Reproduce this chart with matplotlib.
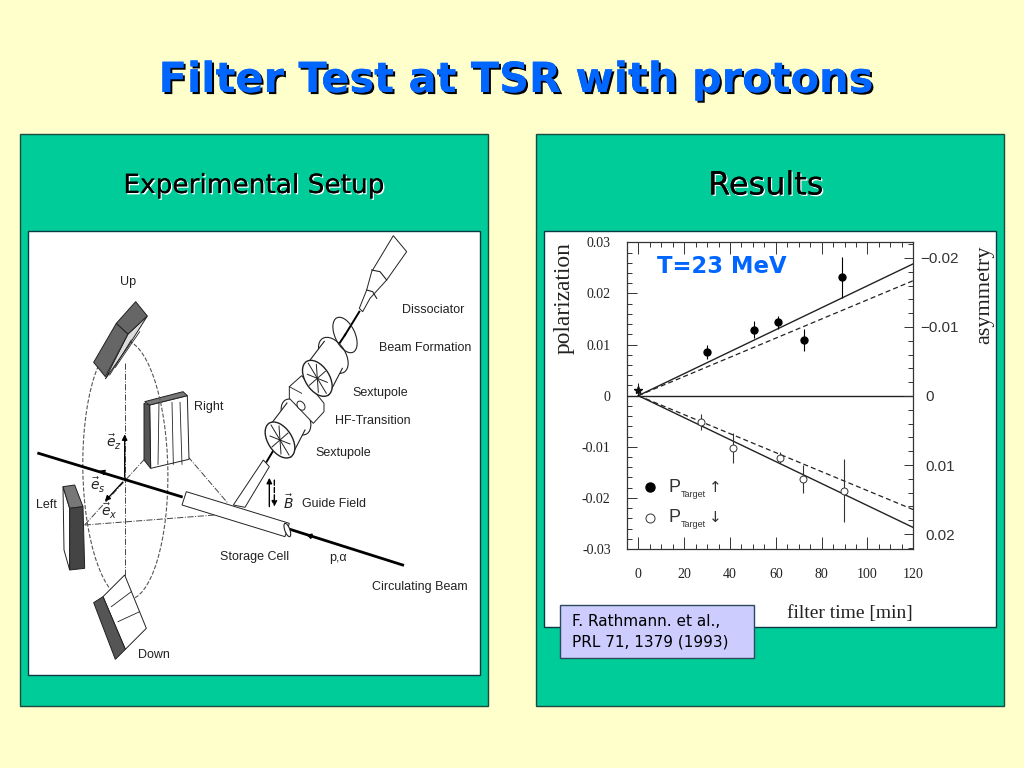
import matplotlib
matplotlib.use('Agg')
import matplotlib.pyplot as plt
import matplotlib.patheffects as pe
from matplotlib.patches import Polygon, Rectangle, Ellipse

# results panel data
up_time = [30.1, 50.3, 61.0, 72.1, 89.0]
up_pol = [0.00855, 0.0129, 0.01435, 0.0109, 0.0232]
up_err = [0.0013, 0.0017, 0.0013, 0.0022, 0.0040]
down_time = [27.5, 41.5, 61.8, 72.0, 89.9]
down_pol = [-0.0051, -0.0102, -0.0121, -0.0163, -0.0186]
down_err = [0.0016, 0.0029, 0.0010, 0.0028, 0.0062]
star_time = [0.0]
star_pol = [0.0012]
fit_time = [0, 120]
fit_up_solid = [0, 0.0258]
fit_up_dash = [0, 0.0225]
fit_down_solid = [0, -0.0258]
fit_down_dash = [0, -0.0223]
x_ticks = [0, 20, 40, 60, 80, 100, 120]
y_ticks = [-0.03, -0.02, -0.01, 0, 0.01, 0.02, 0.03]
y_labels = ['-0.03', '-0.02', '-0.01', '0', '0.01', '0.02', '0.03']
asym_ticks = [-0.02, -0.01, 0, 0.01, 0.02]
asym_labels = ['\u22120.02', '\u22120.01', '0', '0.01', '0.02']
asym_pads = [5, 5, 9, 9, 9]

# setup sketch, outlines
left_labels = [('Up', 128, 282), ('Right', 209, 407), ('Left', 46, 505), ('Down', 154, 655),
               ('Dissociator', 433, 310), ('Beam Formation', 425, 348), ('Sextupole', 380, 393),
               ('HF-Transition', 373, 421), ('Sextupole', 343, 453), ('Guide Field', 334, 504),
               ('Storage Cell', 255, 557), ('p,\u03b1', 338, 558), ('Circulating Beam', 420, 587)]
vector_labels = [(r'$\vec{e}_z$', 114, 442), (r'$\vec{e}_s$', 98, 485),
                 (r'$\vec{e}_x$', 109, 511), (r'$\vec{B}$', 288, 503)]
beam_left = [(32, 670), (460, 800)]
beam_right = [(180, 898), (518, 1005)]
cell_top = [(475, 785), (784, 880)]
cell_bottom = [(462, 825), (771, 920)]
feed_a = [(616, 825), (706, 690)]
feed_b = [(651, 832), (724, 710)]
up_left = [(197, 397), (265, 280), (300, 312), (232, 440)]
up_top = [(265, 280), (323, 215), (358, 258), (300, 312)]
up_strip = [(232, 447), (300, 312), (358, 258), (300, 350)]
right_front = [(365, 525), (478, 497), (483, 688), (368, 715)]
right_side = [(348, 520), (365, 525), (368, 715), (348, 690)]
right_top = [(350, 515), (465, 485), (478, 497), (365, 525)]
left_front = [(125, 835), (165, 830), (170, 1015), (125, 1020)]
left_top = [(105, 770), (140, 765), (165, 830), (125, 835)]
left_side = [(105, 770), (125, 835), (125, 1020), (108, 960)]
down_white = [(290, 1035), (355, 1195), (292, 1258), (225, 1100)]
down_dark = [(197, 1118), (225, 1100), (292, 1258), (262, 1288)]
dot_lines = [[(290, 400), (290, 1110)], [(170, 885), (560, 855)],
             [(170, 885), (420, 610), (600, 820)]]
hf_box = [(178, 470), (215, 437), (282, 520), (282, 545), (250, 580), (178, 505)]
dissociator = [(490, 17), (530, 65), (470, 150), (420, 205), (398, 245), (388, 235),
               (410, 180), (425, 125)]
legend_rows = [(-0.0179, -0.01937, '\u2191'), (-0.02387, -0.02523, '\u2193')]


def lz(pts):
    # first zoom crop to slide pixels
    return [(28 + a / 3, 230 + b / 3) for a, b in pts]


def rz(pts):
    return [(230 + a / 3, 230 + b / 3) for a, b in pts]


def line(pts, **kw):
    kw.setdefault('color', '#222222')
    kw.setdefault('lw', 0.8)
    slide.plot([p[0] for p in pts], [p[1] for p in pts], **kw)


def poly(pts, face, z=3):
    slide.add_patch(Polygon(pts, closed=True, fc=face, ec='#222222', lw=0.7, zorder=z))


def cylinder(cx, cy):
    # sextupole seen from the front, body going up and right
    px, py = 230 + cx / 3, 230 + cy / 3
    slide.add_patch(Ellipse((px + 16, py - 23), 24, 40, angle=-33, fc='white', ec='#222222', lw=0.8, zorder=5))
    slide.add_patch(Polygon([(px - 9, py - 16), (px + 7, py - 37), (px + 25, py - 10), (px + 11, py + 17)],
                            closed=True, fc='white', ec='none', zorder=5))
    line([(px - 9, py - 16), (px + 7, py - 37)], zorder=5)
    line([(px + 25, py - 10), (px + 11, py + 17)], zorder=5)
    slide.add_patch(Ellipse((px, py), 24, 40, angle=-33, fc='white', ec='#222222', lw=1, zorder=5))
    for dx, dy in [(-9, -15), (9, 15), (-10, -4), (10, 4), (-8, 7), (8, -7), (-1, -14), (1, 14)]:
        line([(px, py), (px + dx, py + dy)], zorder=5, lw=0.7)


fig = plt.figure(figsize=(10.24, 7.68), dpi=100, facecolor='#FFFFCC')
slide = fig.add_axes([0, 0, 1, 1])
slide.set_xlim(0, 1024)
slide.set_ylim(768, 0)
slide.axis('off')

# slide boxes
for x0 in [20, 536]:
    slide.add_patch(Rectangle((x0, 134), 468, 572, fc='#00CC99', ec='#1c4a40', lw=1, zorder=1))
slide.add_patch(Rectangle((28, 231), 452, 444, fc='white', ec='#0b3a44', lw=1, zorder=2))
slide.add_patch(Rectangle((544, 231), 452, 396, fc='white', ec='#0b3a44', lw=1, zorder=2))

slide.text(516, 80, 'Filter Test at TSR with protons', color='#0066FF', fontsize=29.9, fontweight='bold',
           ha='center', va='center',
           path_effects=[pe.withSimplePatchShadow(offset=(1.5, -1.5), shadow_rgbFace='black', alpha=1), pe.Normal()])
white_shadow = [pe.withSimplePatchShadow(offset=(1, -1), shadow_rgbFace='white', alpha=1), pe.Normal()]
slide.text(254, 186, 'Experimental Setup', color='black', fontsize=19, ha='center', va='center', path_effects=white_shadow)
slide.text(766, 186, 'Results', color='black', fontsize=23, ha='center', va='center', path_effects=white_shadow)

# setup sketch
for pts in dot_lines:
    line(lz(pts), ls='-.', lw=0.7, zorder=3, color='#444444')
slide.add_patch(Ellipse((28 + 292 / 3, 230 + 720 / 3), 85, 260, angle=-1, fc='none', ec='#555555', lw=0.8, ls='--', zorder=4))
line(lz(beam_left), lw=2, color='black', zorder=4)
line(rz(beam_right), lw=2, color='black', zorder=4)
poly(lz(right_front), 'white', 3)
poly(lz(right_side), '#555555', 3)
poly(lz(right_top), '#777777', 3)
for a, b in [(393, 390), (432, 436), (456, 462)]:
    line(lz([(a, 517), (b, 703)]), zorder=3, lw=0.6)
poly(lz(up_strip), '#dddddd', 5)
for a, b in [((245, 435), (310, 330)), ((262, 412), (335, 305))]:
    line(lz([a, b]), zorder=5, lw=0.6)
poly(lz(up_left), '#666666', 5)
poly(lz(up_top), '#666666', 5)
poly(lz(left_side), 'white', 5)
poly(lz(left_top), '#777777', 5)
poly(lz(left_front), '#444444', 5)
poly(lz(down_white), 'white', 5)
poly(lz(down_dark), '#555555', 5)
for a, b in [((250, 1130), (310, 1085)), ((270, 1175), (335, 1145))]:
    line(lz([a, b]), zorder=6, lw=0.6)

# axis arrows at the target
slide.annotate('', xy=lz([(290, 605)])[0], xytext=lz([(290, 750)])[0], zorder=6,
               arrowprops=dict(arrowstyle='-|>', color='black', lw=0.9, mutation_scale=8))
slide.annotate('', xy=lz([(225, 820)])[0], xytext=lz([(290, 750)])[0], zorder=6,
               arrowprops=dict(arrowstyle='-|>', color='black', lw=0.9, mutation_scale=8))
slide.annotate('', xy=lz([(205, 720)])[0], xytext=lz([(235, 729)])[0], zorder=6,
               arrowprops=dict(arrowstyle='-|>', color='black', lw=0.9, mutation_scale=8))
slide.annotate('', xy=rz([(220, 911)])[0], xytext=rz([(245, 919)])[0], zorder=6,
               arrowprops=dict(arrowstyle='-|>', color='black', lw=0.9, mutation_scale=8))

# storage cell and feed tube
poly(lz([cell_top[0], cell_top[1], cell_bottom[1], cell_bottom[0]]), 'white', 5)
slide.add_patch(Ellipse(lz([(778, 900)])[0], 5, 14, angle=-20, fc='white', ec='#222222', lw=0.8, zorder=6))
poly(lz([feed_a[0], feed_a[1], feed_b[1], feed_b[0]]), 'white', 5)

# polarized source going up to the dissociator
line(rz([(110, 695), (150, 628)]), lw=1.4, color='black', zorder=4)
line(rz([(315, 360), (345, 315)]), lw=1.4, color='black', zorder=4)
line(rz([(345, 315), (388, 245)]), lw=1.4, color='black', zorder=4)
cylinder(150, 630)
poly(rz(hf_box), 'white', 5)
line(rz([(215, 490), (178, 470)]), zorder=5, lw=0.6)
slide.add_patch(Ellipse(rz([(213, 527)])[0], 7, 10, angle=-35, fc='white', ec='#222222', lw=0.7, zorder=5))
cylinder(262, 445)
slide.add_patch(Ellipse(rz([(345, 315)])[0], 20, 38, angle=-25, fc='none', ec='#222222', lw=0.8, zorder=5))
poly(rz(dissociator), 'white', 5)
line(rz([(425, 120), (450, 125), (470, 150)]), zorder=6)
line(rz([(410, 180), (428, 185), (440, 205)]), zorder=6)

# guide field arrows
slide.annotate('', xy=rz([(118, 735)])[0], xytext=rz([(118, 838)])[0], zorder=6,
               arrowprops=dict(arrowstyle='-|>', color='black', lw=1, mutation_scale=8))
slide.annotate('', xy=rz([(133, 838)])[0], xytext=rz([(133, 742)])[0], zorder=6,
               arrowprops=dict(arrowstyle='-|>', color='black', lw=1, ls='--', mutation_scale=8))

for txt, x, y in left_labels:
    slide.text(x, y, txt, fontsize=9, color='#222222', ha='center', va='center',
               family='Liberation Sans', zorder=7)
for txt, x, y in vector_labels:
    slide.text(x, y, txt, fontsize=10, color='#222222', ha='center', va='center', zorder=7)

# results plot
ax = fig.add_axes([627.3 / 1024, 1 - 549 / 768, 286 / 1024, 306.7 / 768], zorder=3)
ax.patch.set_alpha(0)
ax.set_xlim(-4.8, 120)
ax.set_ylim(-0.03, 0.03)
ax.plot(fit_time, fit_up_solid, color='#222222', lw=1)
ax.plot(fit_time, fit_down_solid, color='#222222', lw=1)
ax.plot(fit_time, fit_up_dash, color='#222222', lw=0.9, ls=(0, (4, 2.5)))
ax.plot(fit_time, fit_down_dash, color='#222222', lw=0.9, ls=(0, (4, 2.5)))
ax.axhline(0, color='#222222', lw=1)
ax.errorbar(up_time, up_pol, yerr=up_err, fmt='o', color='black', ms=5, elinewidth=0.8, capsize=0, zorder=5)
ax.errorbar(down_time, down_pol, yerr=down_err, fmt='o', mfc='white', mec='#333333', ecolor='#333333',
            ms=5, mew=0.7, elinewidth=0.8, capsize=0, zorder=5)
ax.plot(star_time, star_pol, marker='*', color='#111111', ms=6, ls='none')
ax.errorbar(star_time, star_pol, yerr=[0.0012], color='#111111', elinewidth=0.7, fmt='none')

ax.set_xticks(x_ticks)
ax.set_xticks(range(0, 121, 5), minor=True)
ax.set_yticks(y_ticks)
ax.set_yticklabels(y_labels)
ax.set_yticks([i * 0.002 for i in range(-15, 16)], minor=True)
ax.tick_params(which='both', direction='in', top=True, right=False, width=0.7, color='#333333')
ax.tick_params(axis='x', which='major', length=8.5, pad=14)
ax.tick_params(axis='x', which='minor', length=3.5)
ax.tick_params(axis='y', which='major', length=7, pad=12)
ax.tick_params(axis='y', which='minor', length=3.5)
for lab in ax.get_xticklabels() + ax.get_yticklabels():
    lab.set_family('Liberation Serif')
    lab.set_fontsize(10)
    lab.set_color('#222222')
for s in ax.spines.values():
    s.set_linewidth(0.9)
    s.set_color('#333333')

ax.set_xlabel('filter time [min]', family='Liberation Serif', fontsize=14, color='#222222')
ax.xaxis.set_label_coords(0.779, -0.181)
ax.set_ylabel('polarization', family='Liberation Serif', fontsize=16.8, color='#222222')
ax.yaxis.set_label_coords(-0.185, 0.818)

ax2 = ax.twinx()
ax2.patch.set_alpha(0)
ax2.set_ylim(0.02217, -0.02227)
ax2.set_yticks(asym_ticks)
ax2.set_yticklabels(asym_labels)
ax2.set_yticks([i * 0.002 for i in range(-11, 12)], minor=True)
ax2.tick_params(which='major', direction='in', length=6.5, width=0.7, color='#333333', labelsize=11, labelcolor='#333333')
ax2.tick_params(which='minor', direction='in', length=3.5, width=0.7, color='#333333')
for t, p in zip(ax2.yaxis.get_major_ticks(), asym_pads):
    t.set_pad(p)
for lab in ax2.get_yticklabels():
    lab.set_family('Liberation Sans')
for s in ax2.spines.values():
    s.set_visible(False)
ax2.set_ylabel('asymmetry', family='Liberation Serif', fontsize=16, color='#222222', rotation=90)
ax2.yaxis.set_label_coords(1.216, 0.828)

ax.text(36.5, 0.0252, 'T=23 MeV', color='#0066FF', fontsize=16.4, fontweight='bold', ha='center', va='center')

# legend drawn by hand as in the paper figure
ax.plot([5], [-0.0179], 'o', color='black', ms=6.5)
ax.plot([5], [-0.0239], 'o', mfc='white', mec='#333333', mew=0.7, ms=6.5)
for y_p, y_t, arrow in legend_rows:
    ax.text(13, y_p, 'P', fontsize=13, family='Liberation Sans', color='#333333', va='center')
    ax.text(18.6, y_t, 'Target', fontsize=6.5, family='Liberation Sans', color='#333333', va='center')
    ax.text(33.4, y_p, arrow, fontsize=11, color='#333333', va='center', ha='center')

# reference box
slide.add_patch(Rectangle((560, 605), 194, 53, fc='#CCCCFF', ec='#2c4a5a', lw=1, zorder=8))
slide.text(572, 621, 'F. Rathmann. et al.,', fontsize=11, color='black', va='center', zorder=9)
slide.text(572, 642, 'PRL 71, 1379 (1993)', fontsize=11, color='black', va='center', zorder=9)

fig.savefig('out.png', dpi=100, facecolor=fig.get_facecolor())
